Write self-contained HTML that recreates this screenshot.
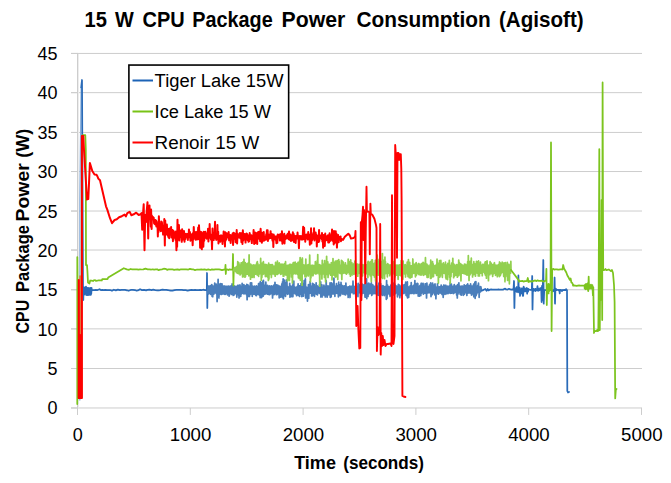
<!DOCTYPE html><html><head><meta charset="utf-8"><style>html,body{margin:0;padding:0;background:#fff;overflow:hidden}svg{display:block}</style></head><body><svg width="671" height="483" viewBox="0 0 671 483">
<rect width="671" height="483" fill="#fff"/>
<line x1="71" y1="407.97" x2="642.00" y2="407.97" stroke="#cdcdcd" stroke-width="1"/>
<line x1="71" y1="368.53" x2="642.00" y2="368.53" stroke="#cdcdcd" stroke-width="1"/>
<line x1="71" y1="328.87" x2="642.00" y2="328.87" stroke="#cdcdcd" stroke-width="1"/>
<line x1="71" y1="289.77" x2="642.00" y2="289.77" stroke="#cdcdcd" stroke-width="1"/>
<line x1="71" y1="250.03" x2="642.00" y2="250.03" stroke="#cdcdcd" stroke-width="1"/>
<line x1="71" y1="211.03" x2="642.00" y2="211.03" stroke="#cdcdcd" stroke-width="1"/>
<line x1="71" y1="171.54" x2="642.00" y2="171.54" stroke="#cdcdcd" stroke-width="1"/>
<line x1="71" y1="132.43" x2="642.00" y2="132.43" stroke="#cdcdcd" stroke-width="1"/>
<line x1="71" y1="92.65" x2="642.00" y2="92.65" stroke="#cdcdcd" stroke-width="1"/>
<line x1="71" y1="53.44" x2="642.00" y2="53.44" stroke="#cdcdcd" stroke-width="1"/>
<line x1="77.5" y1="52.94" x2="77.5" y2="414.95" stroke="#cdcdcd" stroke-width="1"/>
<line x1="78.5" y1="53.94" x2="78.5" y2="407.45" stroke="#ededed" stroke-width="1"/>
<line x1="71" y1="407.97" x2="77.5" y2="407.97" stroke="#cdcdcd" stroke-width="1"/>
<line x1="71" y1="368.53" x2="77.5" y2="368.53" stroke="#cdcdcd" stroke-width="1"/>
<line x1="71" y1="328.87" x2="77.5" y2="328.87" stroke="#cdcdcd" stroke-width="1"/>
<line x1="71" y1="289.77" x2="77.5" y2="289.77" stroke="#cdcdcd" stroke-width="1"/>
<line x1="71" y1="250.03" x2="77.5" y2="250.03" stroke="#cdcdcd" stroke-width="1"/>
<line x1="71" y1="211.03" x2="77.5" y2="211.03" stroke="#cdcdcd" stroke-width="1"/>
<line x1="71" y1="171.54" x2="77.5" y2="171.54" stroke="#cdcdcd" stroke-width="1"/>
<line x1="71" y1="132.43" x2="77.5" y2="132.43" stroke="#cdcdcd" stroke-width="1"/>
<line x1="71" y1="92.65" x2="77.5" y2="92.65" stroke="#cdcdcd" stroke-width="1"/>
<line x1="71" y1="53.44" x2="77.5" y2="53.44" stroke="#cdcdcd" stroke-width="1"/>
<line x1="77.50" y1="407.95" x2="77.50" y2="414.95" stroke="#cdcdcd" stroke-width="1"/>
<line x1="190.30" y1="407.95" x2="190.30" y2="414.95" stroke="#cdcdcd" stroke-width="1"/>
<line x1="303.10" y1="407.95" x2="303.10" y2="414.95" stroke="#cdcdcd" stroke-width="1"/>
<line x1="415.90" y1="407.95" x2="415.90" y2="414.95" stroke="#cdcdcd" stroke-width="1"/>
<line x1="528.70" y1="407.95" x2="528.70" y2="414.95" stroke="#cdcdcd" stroke-width="1"/>
<line x1="641.50" y1="407.95" x2="641.50" y2="414.95" stroke="#cdcdcd" stroke-width="1"/>
<text x="57.5" y="414.45" text-anchor="end" font-family="'Liberation Sans', sans-serif" font-size="18" fill="#000">0</text>
<text x="57.5" y="375.06" text-anchor="end" font-family="'Liberation Sans', sans-serif" font-size="18" fill="#000">5</text>
<text x="57.5" y="335.67" text-anchor="end" font-family="'Liberation Sans', sans-serif" font-size="18" fill="#000">10</text>
<text x="57.5" y="296.28" text-anchor="end" font-family="'Liberation Sans', sans-serif" font-size="18" fill="#000">15</text>
<text x="57.5" y="256.89" text-anchor="end" font-family="'Liberation Sans', sans-serif" font-size="18" fill="#000">20</text>
<text x="57.5" y="217.50" text-anchor="end" font-family="'Liberation Sans', sans-serif" font-size="18" fill="#000">25</text>
<text x="57.5" y="178.11" text-anchor="end" font-family="'Liberation Sans', sans-serif" font-size="18" fill="#000">30</text>
<text x="57.5" y="138.72" text-anchor="end" font-family="'Liberation Sans', sans-serif" font-size="18" fill="#000">35</text>
<text x="57.5" y="99.33" text-anchor="end" font-family="'Liberation Sans', sans-serif" font-size="18" fill="#000">40</text>
<text x="57.5" y="59.94" text-anchor="end" font-family="'Liberation Sans', sans-serif" font-size="18" fill="#000">45</text>
<text x="77.80" y="441.0" text-anchor="middle" font-family="'Liberation Sans', sans-serif" font-size="18" fill="#000">0</text>
<text x="190.60" y="441.0" text-anchor="middle" font-family="'Liberation Sans', sans-serif" font-size="18" textLength="41.5" lengthAdjust="spacingAndGlyphs" fill="#000">1000</text>
<text x="303.40" y="441.0" text-anchor="middle" font-family="'Liberation Sans', sans-serif" font-size="18" textLength="41.5" lengthAdjust="spacingAndGlyphs" fill="#000">2000</text>
<text x="416.20" y="441.0" text-anchor="middle" font-family="'Liberation Sans', sans-serif" font-size="18" textLength="41.5" lengthAdjust="spacingAndGlyphs" fill="#000">3000</text>
<text x="529.00" y="441.0" text-anchor="middle" font-family="'Liberation Sans', sans-serif" font-size="18" textLength="41.5" lengthAdjust="spacingAndGlyphs" fill="#000">4000</text>
<text x="641.80" y="441.0" text-anchor="middle" font-family="'Liberation Sans', sans-serif" font-size="18" textLength="41.5" lengthAdjust="spacingAndGlyphs" fill="#000">5000</text>
<text x="84.50" y="27.0" font-family="'Liberation Sans', sans-serif" font-size="22" font-weight="bold" textLength="22.35" lengthAdjust="spacingAndGlyphs" fill="#000">15</text>
<text x="114.90" y="27.0" font-family="'Liberation Sans', sans-serif" font-size="22" font-weight="bold" textLength="18.78" lengthAdjust="spacingAndGlyphs" fill="#000">W</text>
<text x="142.60" y="27.0" font-family="'Liberation Sans', sans-serif" font-size="22" font-weight="bold" textLength="42.13" lengthAdjust="spacingAndGlyphs" fill="#000">CPU</text>
<text x="192.20" y="27.0" font-family="'Liberation Sans', sans-serif" font-size="22" font-weight="bold" textLength="80.48" lengthAdjust="spacingAndGlyphs" fill="#000">Package</text>
<text x="281.60" y="27.0" font-family="'Liberation Sans', sans-serif" font-size="22" font-weight="bold" textLength="63.72" lengthAdjust="spacingAndGlyphs" fill="#000">Power</text>
<text x="356.40" y="27.0" font-family="'Liberation Sans', sans-serif" font-size="22" font-weight="bold" textLength="134.27" lengthAdjust="spacingAndGlyphs" fill="#000">Consumption</text>
<text x="499.00" y="27.0" font-family="'Liberation Sans', sans-serif" font-size="22" font-weight="bold" textLength="84.60" lengthAdjust="spacingAndGlyphs" fill="#000">(Agisoft)</text>
<text x="294.20" y="469.2" font-family="'Liberation Sans', sans-serif" font-size="17.5" font-weight="bold" textLength="41.72" lengthAdjust="spacingAndGlyphs" fill="#000">Time</text>
<text x="343.20" y="469.2" font-family="'Liberation Sans', sans-serif" font-size="17.5" font-weight="bold" textLength="80.77" lengthAdjust="spacingAndGlyphs" fill="#000">(seconds)</text>
<text transform="translate(28.6,333.5) rotate(-90)" x="0.10" y="0" font-family="'Liberation Sans', sans-serif" font-size="17.5" font-weight="bold" textLength="33.52" lengthAdjust="spacingAndGlyphs" fill="#000">CPU</text>
<text transform="translate(28.6,333.5) rotate(-90)" x="41.50" y="0" font-family="'Liberation Sans', sans-serif" font-size="17.5" font-weight="bold" textLength="66.98" lengthAdjust="spacingAndGlyphs" fill="#000">Package</text>
<text transform="translate(28.6,333.5) rotate(-90)" x="112.10" y="0" font-family="'Liberation Sans', sans-serif" font-size="17.5" font-weight="bold" textLength="58.12" lengthAdjust="spacingAndGlyphs" fill="#000">Power</text>
<text transform="translate(28.6,333.5) rotate(-90)" x="175.70" y="0" font-family="'Liberation Sans', sans-serif" font-size="17.5" font-weight="bold" textLength="29.10" lengthAdjust="spacingAndGlyphs" fill="#000">(W)</text>
<polyline points="79.85,400.00 79.85,200.00 80.50,140.00 81.20,87.50" fill="none" stroke="#8ab0dc" stroke-width="1.3" stroke-linejoin="round" stroke-linecap="round" />
<polyline points="81.20,87.50 82.00,80.00 82.60,200.00 83.00,286.00 83.30,300.00 83.60,287.00 83.80,290.74 83.98,290.11 84.28,294.59 84.53,289.21 84.77,292.87 85.02,287.46 85.29,292.59 85.57,288.80 85.83,294.09 86.03,286.65 86.24,295.07 86.40,287.54 86.70,294.77 86.92,288.40 87.12,294.23 87.37,287.99 87.65,295.09 87.93,290.02 88.23,295.01 88.50,288.10 88.69,294.94 88.83,287.81 89.04,291.89 89.32,288.12 89.56,294.82 89.85,288.89 90.07,293.07 90.31,290.27 90.48,294.06 90.62,287.83 90.80,294.98 91.02,288.47 91.26,293.86 91.56,287.83 91.77,290.77 92.00,290.01 93.21,290.02 94.43,290.04 95.70,289.99 97.61,290.06 99.58,289.22 100.81,290.04 102.32,289.90 103.71,290.10 105.19,289.88 107.25,290.06 108.58,290.05 110.07,290.05 111.95,290.77 113.86,289.71 115.84,290.40 117.86,289.58 119.94,290.11 121.50,289.88 123.35,289.98 125.09,289.99 126.96,290.27 128.59,290.77 130.72,289.98 132.91,289.92 134.90,290.05 136.64,290.74 138.75,290.14 140.07,289.25 142.00,290.12 144.15,289.85 146.13,290.38 147.35,289.87 149.51,289.61 151.61,290.08 153.18,289.66 155.21,290.09 157.28,290.28 158.76,290.28 160.30,290.11 162.32,289.71 164.54,289.88 166.27,289.94 167.84,290.03 169.41,290.49 170.75,290.69 172.54,290.58 174.57,290.09 176.42,289.96 178.14,289.98 180.07,289.92 181.83,289.87 183.48,290.11 185.66,290.12 187.69,290.63 189.88,290.10 191.63,289.88 193.17,290.09 195.12,289.92 196.73,290.02 198.62,290.10 200.18,289.86 201.50,290.06 203.00,289.73 205.01,290.06 206.32,290.13 206.50,290.00 206.80,290.00 207.00,273.00 207.30,308.00 207.60,290.00" fill="none" stroke="#2a6bb8" stroke-width="1.75" stroke-linejoin="round" stroke-linecap="round" />
<polyline points="207.60,290.00 208.00,293.72 208.29,286.24 208.61,293.96 208.99,286.41 209.40,293.01 209.64,286.53 210.05,293.03 210.27,285.53 210.62,294.30 210.86,287.22 211.15,292.72 211.35,287.27 211.61,293.86 211.80,284.56 212.09,296.32 212.50,286.78 212.71,296.68 212.92,286.07 213.12,293.28 213.49,287.26 213.83,294.11 214.07,285.97 214.41,292.77 214.71,283.13 215.05,292.90 215.39,287.48 215.78,292.79 216.19,284.16 216.54,293.62 216.87,287.22 217.10,301.58 217.46,286.39 217.72,296.65 218.11,279.44 218.35,293.23 218.61,286.77 218.98,297.89 219.19,285.07 219.39,293.94 219.62,284.17 219.98,293.98 220.30,284.49 220.52,293.63 220.75,283.51 220.94,294.26 221.35,286.75 221.67,294.42 222.01,283.89 222.31,293.94 222.49,286.53 222.79,293.42 223.01,287.74 223.31,293.39 223.63,286.09 223.84,293.73 224.03,285.99 224.23,294.32 224.49,286.47 224.70,293.69 225.10,286.38 225.37,294.32 225.75,286.35 226.05,293.80 226.25,286.25 226.55,293.56 226.83,287.22 227.12,293.30 227.34,286.42 227.61,294.93 227.94,286.69 228.17,292.80 228.46,286.17 228.68,292.84 228.86,286.26 229.16,296.18 229.45,286.45 229.64,293.28 229.83,287.38 230.03,292.83 230.36,286.30 230.55,293.04 230.92,286.00 231.17,294.40 231.55,287.13 231.75,294.38 232.07,283.93 232.28,293.86 232.47,286.06 232.70,293.43 233.07,285.98 233.26,295.41 233.66,285.61 234.05,295.04 234.31,286.01 234.53,293.92 234.91,286.01 235.18,292.95 235.55,287.27 235.77,293.67 236.12,286.85 236.33,292.55 236.63,286.49 236.83,297.08 237.16,286.11 237.45,293.91 237.71,285.39 237.99,292.70 238.30,285.28 238.64,294.92 238.86,286.66 239.04,297.94 239.27,286.98 239.64,294.01 239.95,284.84 240.15,292.71 240.33,287.40 240.73,296.46 240.96,286.60 241.29,294.17 241.56,286.93 241.76,293.63 242.14,283.43 242.43,292.64 242.69,287.64 243.01,293.30 243.34,287.37 243.61,293.13 243.89,284.64 244.11,293.88 244.50,286.60 244.90,293.29 245.31,285.95 245.61,293.26 246.03,287.22 246.43,294.71 246.78,284.36 247.12,299.69 247.36,287.11 247.72,293.03 247.93,284.95 248.12,296.26 248.47,285.89 248.86,294.56 249.12,286.76 249.43,296.48 249.68,286.07 250.05,294.77 250.42,282.96 250.73,292.79 250.92,284.02 251.22,293.98 251.63,282.82 251.81,293.12 252.01,287.59 252.26,296.27 252.54,286.06 252.82,293.76 253.22,287.29 253.44,293.98 253.74,286.70 253.98,294.11 254.32,286.02 254.61,294.24 254.99,286.97 255.29,294.58 255.63,286.71 255.91,295.35 256.29,285.92 256.50,295.54 256.78,286.17 257.19,292.51 257.50,286.82 257.75,294.20 257.95,287.05 258.26,294.30 258.59,283.55 258.82,294.04 259.07,283.48 259.48,295.16 259.73,285.45 260.14,297.54 260.37,281.73 260.73,293.66 261.10,282.54 261.51,297.60 261.81,284.69 262.00,296.62 262.22,287.41 262.64,293.68 262.85,281.13 263.07,296.22 263.46,280.48 263.77,292.64 264.04,287.21 264.25,294.37 264.52,287.60 264.75,294.35 265.16,285.16 265.57,293.78 265.82,282.23 266.18,293.53 266.47,286.90 266.78,292.82 267.11,286.12 267.33,294.04 267.55,285.48 267.74,293.22 268.13,286.02 268.52,294.33 268.86,286.27 269.07,293.27 269.28,287.12 269.58,294.70 269.85,285.86 270.25,294.03 270.50,287.22 270.71,293.83 270.97,287.20 271.39,293.34 271.69,285.85 272.00,293.60 272.20,286.11 272.56,297.87 272.84,287.03 273.07,294.11 273.35,286.37 273.62,294.58 273.89,285.15 274.28,292.70 274.52,285.05 274.73,294.43 274.98,282.37 275.38,293.83 275.76,285.98 276.04,292.64 276.44,284.84 276.83,294.61 277.21,287.57 277.39,294.22 277.77,285.05 278.05,293.24 278.38,286.89 278.58,293.73 278.78,286.28 279.20,297.82 279.49,286.01 279.87,296.15 280.19,287.34 280.47,297.09 280.65,286.72 280.97,295.84 281.26,286.69 281.51,293.67 281.82,283.81 282.21,297.29 282.54,281.83 282.94,293.81 283.17,278.99 283.42,298.65 283.66,285.93 283.87,293.15 284.10,284.78 284.40,294.02 284.78,280.05 285.05,295.78 285.29,287.07 285.50,296.26 285.81,283.12 286.05,293.55 286.27,286.96 286.58,293.59 286.86,279.92 287.25,293.49 287.49,286.40 287.73,294.27 287.99,286.79 288.21,293.03 288.57,287.51 288.88,293.30 289.19,286.86 289.48,293.96 289.71,283.43 290.03,297.14 290.42,285.82 290.80,292.94 290.98,286.30 291.25,293.46 291.49,286.63 291.76,296.51 292.01,287.38 292.29,296.15 292.61,285.05 292.90,296.61 293.12,283.38 293.52,293.36 293.80,281.14 294.06,292.60 294.46,286.87 294.71,292.73 295.02,287.32 295.26,293.88 295.61,287.51 295.96,292.80 296.25,287.08 296.61,295.60 296.86,286.99 297.25,293.33 297.59,286.16 297.83,293.48 298.11,283.78 298.44,295.38 298.74,286.08 299.10,293.81 299.41,285.94 299.64,296.47 300.00,286.29 300.21,293.63 300.54,285.58 300.87,292.62 301.05,283.52 301.32,294.25 301.65,283.52 301.83,296.59 302.05,280.58 302.31,292.55 302.68,286.15 302.97,292.97 303.20,286.16 303.47,296.14 303.67,283.37 303.98,292.90 304.17,280.63 304.39,292.85 304.76,286.42 305.11,293.16 305.37,278.81 305.67,297.94 305.99,286.85 306.20,292.66 306.46,287.45 306.76,292.81 307.17,287.66 307.46,301.05 307.85,287.59 308.19,296.50 308.44,284.69 308.77,298.14 308.96,287.32 309.16,293.35 309.53,286.48 309.73,293.31 310.14,281.60 310.48,293.14 310.83,286.93 311.12,292.39 311.38,287.19 311.67,295.92 312.01,285.85 312.30,295.81 312.49,283.39 312.82,295.28 313.02,283.69 313.27,293.40 313.53,287.60 313.88,293.02 314.24,284.72 314.47,296.48 314.81,287.47 315.17,293.04 315.47,287.29 315.75,293.68 316.15,282.82 316.52,294.18 316.73,285.96 316.94,294.12 317.19,285.94 317.47,294.96 317.85,287.07 318.14,292.80 318.32,287.06 318.60,292.85 318.80,287.20 319.03,292.75 319.43,284.84 319.66,293.38 319.93,287.10 320.32,293.74 320.69,281.96 320.92,297.07 321.32,286.60 321.53,292.42 321.92,284.94 322.33,296.89 322.59,287.46 322.98,292.96 323.32,287.18 323.53,292.35 323.92,285.22 324.18,295.21 324.49,287.02 324.74,293.78 325.02,286.74 325.23,296.93 325.52,286.68 325.91,295.51 326.18,280.50 326.47,293.16 326.76,287.30 327.18,297.23 327.40,287.16 327.60,293.89 327.98,285.79 328.18,294.92 328.54,286.24 328.91,293.58 329.30,287.50 329.69,295.06 330.07,282.87 330.26,297.28 330.45,285.87 330.68,293.70 331.01,286.32 331.19,296.83 331.60,282.85 331.81,293.13 332.12,287.39 332.47,293.92 332.72,284.18 333.12,293.02 333.42,287.04 333.68,293.76 333.93,278.07 334.29,293.05 334.70,287.23 334.90,296.35 335.17,286.41 335.46,293.42 335.79,286.65 336.09,292.64 336.46,283.72 336.65,293.12 337.00,285.57 337.22,293.37 337.40,285.90 337.81,293.35 338.06,286.09 338.40,296.76 338.69,282.24 338.95,294.70 339.27,286.01 339.58,293.38 339.89,285.45 340.15,295.61 340.37,284.74 340.69,294.82 341.02,282.48 341.26,292.53 341.50,284.77 341.88,292.55 342.16,287.52 342.57,294.03 342.91,285.78 343.16,293.47 343.38,287.45 343.74,293.92 344.10,286.03 344.29,294.49 344.57,285.96 344.93,293.58 345.20,286.21 345.57,294.98 345.90,283.23 346.08,293.17 346.31,286.73 346.72,293.36 347.11,287.31 347.49,294.13 347.85,287.23 348.18,297.36 348.50,286.95 348.76,293.50 349.03,286.80 349.36,292.79 349.78,286.18 350.02,297.50 350.40,287.21 350.75,292.95 351.07,286.39 351.43,292.45 351.75,286.37 352.07,292.30 352.44,286.51 352.70,292.48 353.00,281.24 353.37,293.67 353.65,287.31 354.03,293.67 354.23,287.59 354.55,292.35 354.83,286.43 355.09,292.91 355.48,287.46 355.89,298.81 356.26,283.57 356.65,292.89 357.01,286.51 357.34,295.55 357.76,287.60 357.98,296.52 358.21,283.41 358.43,293.09 358.83,287.21 359.20,292.64 359.39,286.54 359.64,292.60 359.93,284.72 360.32,292.51 360.56,287.08 360.95,299.80 361.28,286.94 361.47,295.82 361.66,283.57 362.05,293.79 362.36,286.29 362.68,292.26 362.88,284.55 363.09,293.29 363.45,287.18 363.84,292.71 364.05,285.93 364.42,293.33 364.63,284.40 364.99,297.01 365.17,287.16 365.55,293.99 365.84,287.06 366.22,297.14 366.55,278.83 366.80,298.57 366.99,283.06 367.40,293.79 367.78,286.89 368.02,296.40 368.25,287.01 368.57,293.36 368.79,283.24 369.02,293.99 369.29,286.46 369.70,293.58 370.04,284.24 370.36,293.41 370.76,286.10 370.97,293.34 371.38,282.92 371.79,295.39 372.12,286.80 372.43,293.16 372.80,284.78 373.13,293.80 373.33,286.48 373.57,292.34 373.80,286.29 374.19,293.54 374.46,286.30 374.71,293.24 374.96,287.48 375.28,293.43 375.58,286.48 375.85,293.60 376.07,281.32 376.35,293.79 376.69,285.48 377.04,294.98 377.44,286.46 377.77,294.99 378.11,286.71 378.47,295.15 378.88,283.22 379.30,295.36 379.62,282.22 379.80,292.69 380.20,287.37 380.48,295.14 380.68,283.72 381.07,294.07 381.36,286.86 381.76,294.40 382.15,286.08 382.53,295.34 382.91,285.74 383.11,292.93 383.38,285.91 383.77,294.71 384.10,286.70 384.37,295.54 384.77,287.16 385.16,294.06 385.50,286.58 385.70,292.39 385.96,286.17 386.33,299.30 386.60,280.51 387.00,298.29 387.40,284.82 387.77,293.92 388.15,286.34 388.38,293.15 388.68,287.07 388.90,292.76 389.11,286.70 389.45,294.35 389.71,287.13 390.11,296.34 390.33,287.39 390.55,292.75 390.86,285.13 391.11,292.23 391.39,286.59 391.64,292.27 391.85,282.17 392.23,294.28 392.61,283.61 392.95,294.77 393.16,286.09 393.45,294.97 393.80,283.13 394.07,292.56 394.41,284.09 394.67,293.55 394.88,284.18 395.16,293.80 395.57,287.20 395.83,292.52 396.09,285.81 396.45,292.86 396.75,286.40 396.93,292.89 397.19,286.27 397.46,296.79 397.74,286.23 398.06,295.02 398.37,284.40 398.66,294.04 398.85,286.00 399.26,292.32 399.49,285.19 399.83,297.70 400.11,286.15 400.38,292.53 400.67,287.54 400.98,292.36 401.22,287.01 401.44,295.44 401.72,284.73 401.95,293.11 402.15,287.09 402.57,292.26 402.91,285.06 403.30,293.43 403.64,286.65 403.98,293.56 404.36,284.55 404.67,292.65 405.06,286.41 405.37,292.36 405.74,282.04 406.07,295.28 406.40,286.40 406.60,292.77 406.89,286.56 407.17,296.37 407.36,281.99 407.57,297.77 407.84,286.60 408.19,297.48 408.37,287.09 408.70,297.16 408.97,287.07 409.35,292.35 409.71,287.22 409.94,293.70 410.15,285.99 410.39,292.52 410.76,286.81 410.97,293.23 411.22,282.70 411.46,293.30 411.86,287.41 412.13,293.49 412.55,286.39 412.91,292.74 413.10,286.31 413.35,292.46 413.59,285.35 413.89,293.64 414.09,285.96 414.49,293.13 414.87,280.59 415.13,292.68 415.48,285.13 415.72,292.77 415.94,284.21 416.21,293.45 416.54,287.12 416.93,292.89 417.12,283.34 417.51,292.85 417.82,283.62 418.24,296.02 418.62,287.04 418.86,293.58 419.25,286.35 419.62,296.16 419.90,285.68 420.25,292.02 420.44,285.16 420.80,295.43 421.11,283.48 421.40,293.11 421.67,283.34 422.03,292.80 422.36,285.82 422.67,292.10 423.09,283.49 423.45,294.13 423.85,286.24 424.17,293.29 424.54,287.14 424.92,292.92 425.11,283.80 425.39,293.04 425.74,283.98 426.09,293.49 426.33,285.94 426.53,297.90 426.89,283.09 427.26,291.98 427.61,286.42 428.00,292.97 428.39,287.45 428.63,292.49 428.93,286.45 429.30,292.78 429.50,284.77 429.80,292.02 430.14,284.15 430.32,292.14 430.73,282.90 431.01,296.60 431.26,286.53 431.68,291.97 431.97,286.15 432.24,294.69 432.60,283.09 432.84,293.08 433.08,286.55 433.33,292.97 433.73,285.33 434.04,292.72 434.44,284.55 434.73,294.75 435.02,283.97 435.43,292.24 435.70,287.49 435.91,298.68 436.21,287.46 436.60,293.05 437.00,287.09 437.22,293.52 437.49,283.89 437.88,293.26 438.15,286.69 438.52,294.21 438.83,287.02 439.01,293.37 439.23,287.40 439.48,292.02 439.77,286.96 440.13,292.32 440.49,286.60 440.81,293.11 441.16,285.04 441.51,293.38 441.76,286.64 442.09,294.42 442.30,286.85 442.64,293.52 442.88,286.81 443.18,297.27 443.41,285.91 443.65,293.47 443.96,285.00 444.36,292.47 444.71,286.37 444.98,294.30 445.32,285.37 445.52,293.36 445.93,285.40 446.30,293.82 446.52,286.80 446.77,292.82 447.14,287.36 447.52,292.92 447.78,286.13 448.05,293.73 448.39,286.57 448.69,292.94 449.02,286.31 449.31,292.93 449.57,285.86 449.92,292.31 450.23,282.78 450.52,293.26 450.71,287.32 451.12,292.17 451.37,284.11 451.73,293.16 452.00,287.00 452.26,292.98 452.51,286.64 452.89,292.50 453.20,286.36 453.40,293.52 453.68,286.58 454.02,293.17 454.27,284.62 454.50,291.90 454.78,287.17 454.99,292.10 455.39,286.09 455.70,292.20 455.89,287.23 456.09,292.68 456.41,286.36 456.65,294.89 456.99,285.50 457.30,297.98 457.63,284.72 457.96,294.24 458.33,286.36 458.56,292.88 458.88,282.88 459.06,292.05 459.29,285.95 459.54,291.97 459.86,286.37 460.27,294.48 460.50,286.75 460.86,291.96 461.06,286.21 461.35,295.13 461.72,286.96 462.06,291.74 462.42,286.12 462.81,292.75 463.02,286.48 463.30,295.27 463.57,286.79 463.96,293.30 464.20,284.80 464.47,294.29 464.75,286.41 465.13,292.38 465.42,285.99 465.74,291.83 466.12,286.89 466.34,292.90 466.59,285.15 466.89,295.49 467.16,286.94 467.34,293.48 467.70,283.90 467.95,293.11 468.25,286.27 468.59,291.79 468.99,285.67 469.22,292.80 469.47,286.21 469.79,291.89 470.03,286.39 470.25,292.89 470.60,283.97 470.88,293.34 471.26,285.96 471.49,295.07 471.80,286.96 472.10,292.90 472.38,286.16 472.77,291.97 473.05,286.98 473.37,294.99 473.63,284.19 473.83,296.75 474.12,285.10 474.48,293.21 474.85,282.25 475.14,298.35 475.39,286.44 475.63,294.68 475.86,281.68 476.09,295.73 476.45,287.53 476.81,293.99 477.18,287.14 477.49,292.52 477.75,285.26 478.14,291.95 478.48,283.24 478.75,292.54 478.95,286.48 479.14,297.26 479.49,286.82 479.88,292.10 480.17,286.76 480.47,291.88 480.76,286.62 481.50,290.00" fill="none" stroke="#4a7ebb" stroke-width="1.75" stroke-linejoin="round" stroke-linecap="round" />
<polyline points="481.50,290.77 482.62,290.40 484.08,289.56 485.30,289.01 486.56,290.85 487.71,288.99 488.54,290.45 490.03,289.52 491.03,289.49 492.46,289.67 493.45,289.72 494.41,289.54 495.72,289.59 497.17,289.58 498.62,289.47 499.52,289.55 500.36,289.55 501.79,289.51 502.89,289.72 504.08,288.97 505.14,288.56 506.21,289.50 507.54,289.51 509.00,288.82 510.37,289.47 511.25,289.53 512.10,289.49 513.20,289.52 513.50,289.60 514.00,281.00 514.40,308.00 514.80,290.00 515.00,291.65 515.36,288.84 515.67,290.10 516.16,287.67 516.50,291.89 516.93,286.97 517.29,290.89 517.70,289.40 518.13,292.26 518.67,289.98 519.26,291.12 519.64,287.68 520.02,295.98 520.60,289.47 521.15,293.58 521.72,288.40 522.31,291.46 522.73,288.50 523.17,295.77 523.65,286.67 524.29,291.50 524.91,288.40 525.41,291.46 525.80,289.39 526.17,290.61 526.81,287.98 527.14,293.79 527.56,288.57 528.07,291.56 528.69,289.01 529.00,289.70 530.06,289.75 531.48,289.75 531.80,289.80 532.20,276.00 532.50,309.40 532.90,290.00 533.00,290.52 533.54,288.79 533.92,290.88 534.32,289.36 534.80,290.30 535.37,288.89 535.72,291.05 536.35,289.39 536.99,290.00 537.46,286.17 537.92,290.78 538.27,288.29 538.71,290.73 539.37,289.17 539.76,290.06 540.20,288.14 541.20,288.00 541.60,302.00 542.00,286.00 542.60,300.00 543.30,260.00 543.70,303.60 544.20,290.00 544.50,290.08 545.54,290.00 546.70,290.01 547.88,289.99 548.96,289.94 549.83,289.96 550.67,289.87 551.45,289.92 552.54,291.38 553.50,290.01 554.21,291.37 554.30,290.00 554.60,277.50 555.00,303.60 555.40,290.00 555.60,288.53 556.65,290.08 557.50,289.97 558.48,289.99 559.35,290.70 560.42,289.92 561.14,289.89 561.84,291.13 562.76,289.92 563.78,290.13 564.66,289.90 565.38,290.13 566.16,289.15 566.60,290.00 567.00,290.00 567.30,391.00 568.00,392.50 569.00,392.00" fill="none" stroke="#2a6bb8" stroke-width="1.75" stroke-linejoin="round" stroke-linecap="round" />
<polyline points="518.20,290.00 518.40,275.40 518.70,290.00" fill="none" stroke="#2a6bb8" stroke-width="1.75" stroke-linejoin="round" stroke-linecap="round" />
<polyline points="522.60,290.00 522.80,295.70 523.10,290.00" fill="none" stroke="#2a6bb8" stroke-width="1.75" stroke-linejoin="round" stroke-linecap="round" />
<polyline points="559.50,290.00 559.70,293.50 560.00,290.00" fill="none" stroke="#2a6bb8" stroke-width="1.75" stroke-linejoin="round" stroke-linecap="round" />
<polyline points="77.25,404.00 77.30,257.00 77.60,290.00 78.40,398.00 81.50,398.00 81.90,136.00 83.00,135.00 85.30,135.00 85.80,150.00 86.00,265.00 87.00,265.00 87.40,271.00 88.00,282.50 89.40,283.50 90.20,280.50 90.20,280.57 91.56,280.57 93.00,281.04 93.98,280.25 95.10,280.05 95.91,280.78 97.32,280.58 98.17,280.48 99.06,280.35 100.41,280.40 101.32,280.41 101.80,280.50 102.30,279.00 107.50,279.00 108.20,277.60 123.80,268.20 126.80,269.40 126.80,269.30 129.02,269.81 130.60,269.00 132.14,269.43 133.97,269.27 135.54,269.46 136.94,269.30 138.41,269.53 139.98,269.41 141.62,269.50 143.30,269.44 145.50,268.64 147.69,269.36 149.44,269.28 151.43,269.51 152.66,269.28 154.22,269.53 155.78,269.41 157.31,269.30 158.59,270.20 159.96,269.67 161.94,269.33 163.82,268.71 165.37,268.80 167.40,269.86 168.66,269.29 170.83,269.30 172.58,269.46 174.11,269.87 175.46,269.55 177.67,269.40 179.23,269.93 181.00,269.27 183.04,269.43 184.27,269.42 186.17,269.33 188.40,269.54 189.96,268.89 191.97,269.33 193.48,269.45 195.05,270.06 197.12,269.50 199.23,269.54 201.44,269.41 202.81,269.53 204.51,269.47 206.48,269.82 208.26,269.33 210.51,269.99 211.90,269.30 213.85,269.54 215.23,269.28 217.44,269.41 219.08,269.45 220.35,269.65 221.98,270.13 223.90,269.54 224.70,269.40 225.20,269.40 225.50,264.80 225.80,274.00 226.10,269.40 226.10,269.34 227.26,269.34 228.30,270.10 229.55,269.29 230.77,269.54 232.25,269.36 232.60,269.40 233.00,254.00 233.40,285.50 233.80,269.40" fill="none" stroke="#7cc41e" stroke-width="1.75" stroke-linejoin="round" stroke-linecap="round" />
<polyline points="233.80,269.40 234.00,270.79 234.40,267.97 234.58,270.83 234.90,267.59 235.20,271.12 235.47,267.75 235.72,271.01 236.10,267.12 236.35,272.51 236.57,266.69 236.87,272.35 237.19,267.15 237.42,273.05 237.76,261.62 238.18,273.37 238.37,266.32 238.70,273.73 238.91,262.95 239.13,273.22 239.35,266.43 239.56,272.42 239.75,264.79 240.14,274.99 240.40,265.39 240.80,272.38 241.15,262.77 241.45,273.55 241.78,262.78 242.02,273.46 242.23,263.22 242.59,276.88 242.93,261.91 243.13,276.68 243.36,265.40 243.62,272.31 243.98,259.40 244.38,272.76 244.59,264.97 244.97,277.19 245.23,262.68 245.56,276.30 245.77,265.01 246.15,274.23 246.45,265.18 246.81,272.46 247.00,263.74 247.39,274.01 247.57,264.44 247.90,273.32 248.10,263.24 248.37,274.29 248.59,262.76 248.81,275.84 249.10,254.89 249.37,273.84 249.71,264.31 249.92,272.91 250.26,266.14 250.49,279.24 250.69,264.24 250.96,275.97 251.21,264.84 251.43,276.48 251.83,265.51 252.25,277.45 252.61,266.41 252.92,273.44 253.19,264.85 253.58,274.41 253.78,265.09 254.05,277.36 254.33,265.05 254.52,272.64 254.82,265.27 255.02,274.08 255.33,265.12 255.72,274.02 256.03,265.18 256.30,273.91 256.70,262.94 257.08,274.77 257.33,261.54 257.71,275.03 257.91,263.80 258.19,272.79 258.38,266.40 258.61,276.26 258.82,265.78 259.18,274.30 259.51,265.17 259.80,273.74 260.21,264.87 260.45,273.10 260.66,258.41 260.91,272.88 261.10,265.21 261.29,280.26 261.55,264.29 261.88,277.23 262.15,263.21 262.47,273.90 262.67,266.11 263.02,274.40 263.39,261.66 263.79,273.22 264.08,264.32 264.39,273.59 264.59,265.53 264.78,272.28 265.10,264.45 265.38,276.46 265.60,265.67 265.96,276.54 266.20,264.54 266.59,273.13 266.80,265.36 266.99,275.16 267.34,266.04 267.71,277.04 268.10,264.63 268.37,280.39 268.69,263.12 268.95,279.02 269.22,264.86 269.50,274.09 269.90,264.94 270.21,273.04 270.53,265.28 270.78,274.49 271.04,264.73 271.40,277.39 271.64,266.33 272.00,274.42 272.40,264.54 272.75,272.67 273.06,265.94 273.47,273.10 273.65,266.08 273.99,274.30 274.32,266.24 274.66,273.85 274.93,266.00 275.19,276.24 275.58,262.47 275.94,274.26 276.26,264.45 276.62,273.17 276.92,265.79 277.17,274.43 277.39,261.11 277.71,272.61 277.94,264.99 278.28,272.32 278.58,264.26 278.83,273.68 279.24,262.89 279.62,272.41 279.84,264.69 280.06,272.42 280.42,264.59 280.80,274.32 281.21,264.24 281.41,273.94 281.64,265.42 281.98,272.36 282.26,265.61 282.47,273.04 282.81,264.25 283.22,276.20 283.57,264.45 283.87,276.17 284.27,265.81 284.57,274.00 284.89,263.28 285.27,272.28 285.55,261.74 285.75,274.93 286.04,265.22 286.31,272.38 286.58,266.47 286.94,275.15 287.18,265.59 287.49,280.81 287.90,265.38 288.10,279.74 288.45,266.35 288.72,273.17 289.04,264.98 289.38,280.50 289.74,264.45 290.12,273.03 290.54,264.40 290.75,273.13 291.17,265.97 291.45,276.92 291.70,266.19 291.92,272.32 292.19,264.42 292.42,282.89 292.83,266.16 293.06,274.33 293.25,262.73 293.50,273.01 293.86,262.72 294.28,272.36 294.48,265.60 294.75,273.50 295.16,262.03 295.41,273.84 295.62,264.83 295.80,273.12 296.10,264.63 296.29,272.23 296.57,263.51 296.82,273.66 297.22,265.24 297.57,274.34 297.99,262.36 298.39,277.67 298.75,265.56 299.15,278.42 299.53,261.12 299.83,272.62 300.12,257.59 300.38,280.27 300.62,259.18 300.98,279.61 301.31,265.00 301.55,279.79 301.84,266.05 302.05,285.13 302.36,258.00 302.74,274.15 302.93,266.19 303.28,273.55 303.52,266.20 303.71,272.34 303.91,264.96 304.30,272.29 304.64,266.18 305.00,276.83 305.18,265.26 305.57,272.49 305.81,259.19 306.04,276.81 306.23,265.02 306.57,275.79 306.87,265.42 307.19,272.46 307.43,265.21 307.83,273.66 308.11,264.52 308.36,275.87 308.62,265.84 308.95,274.33 309.16,265.68 309.37,274.07 309.69,255.12 309.96,273.79 310.20,265.69 310.40,281.74 310.68,266.31 310.94,277.66 311.31,265.28 311.51,272.64 311.70,265.78 311.90,274.27 312.31,266.21 312.67,275.72 312.87,265.19 313.16,275.63 313.57,265.97 313.88,272.99 314.21,265.70 314.58,272.43 314.78,265.37 315.06,273.44 315.36,261.66 315.60,273.86 315.93,263.27 316.28,272.34 316.70,263.02 316.90,273.54 317.28,260.55 317.49,272.69 317.75,254.58 317.96,272.88 318.28,265.32 318.67,272.75 318.93,266.14 319.22,274.36 319.43,264.69 319.78,286.17 320.04,264.91 320.32,273.66 320.58,265.28 320.93,273.94 321.15,266.44 321.52,274.03 321.71,265.34 321.92,278.94 322.30,260.36 322.64,273.58 322.87,263.76 323.21,273.81 323.51,265.73 323.87,273.47 324.23,264.85 324.42,277.37 324.64,260.53 325.00,275.97 325.29,265.34 325.59,281.85 325.96,264.51 326.28,274.05 326.61,256.35 327.03,274.46 327.29,263.02 327.49,274.22 327.78,261.81 328.05,277.47 328.44,265.93 328.72,273.03 328.91,264.66 329.25,273.66 329.62,264.32 329.99,273.60 330.32,264.79 330.61,275.13 330.85,264.66 331.08,274.02 331.35,262.52 331.61,274.92 331.79,263.15 332.00,279.81 332.41,265.68 332.81,274.39 332.99,258.59 333.35,273.93 333.64,265.03 333.95,275.19 334.24,265.90 334.49,272.24 334.80,262.07 335.12,276.85 335.40,261.02 335.76,277.06 335.97,266.24 336.31,273.54 336.50,265.34 336.78,276.07 337.07,260.67 337.31,275.55 337.56,265.75 337.77,279.40 337.97,262.15 338.31,272.29 338.70,259.63 338.99,272.20 339.22,261.48 339.60,272.86 339.90,265.11 340.19,273.48 340.47,266.12 340.75,272.77 341.02,265.06 341.24,273.75 341.43,260.26 341.83,279.50 342.16,260.98 342.35,272.43 342.61,265.25 342.99,273.48 343.37,262.19 343.63,272.31 344.02,264.61 344.43,272.95 344.82,266.12 345.17,273.11 345.42,262.90 345.82,272.64 346.15,265.00 346.44,274.14 346.82,265.86 347.12,273.21 347.51,265.71 347.78,272.42 348.18,259.19 348.43,272.15 348.66,264.60 348.89,272.12 349.10,261.67 349.36,273.94 349.56,264.71 349.96,273.85 350.21,263.76 350.40,276.19 350.70,259.88 351.08,273.72 351.44,265.13 351.71,272.69 351.90,262.89 352.11,274.89 352.38,265.29 352.76,273.40 353.01,265.68 353.35,273.86 353.60,264.19 353.92,274.28 354.17,263.50 354.51,272.68 354.87,261.24 355.07,273.66 355.43,264.40 355.76,272.22 355.99,265.15 356.19,272.83 356.48,264.48 356.73,273.42 357.07,263.99 357.37,273.51 357.58,265.12 357.80,276.17 357.99,265.73 358.18,273.82 358.45,266.22 358.72,273.47 358.90,264.46 359.30,272.62 359.59,266.06 359.93,273.12 360.24,264.20 360.57,278.99 360.91,262.51 361.18,273.44 361.52,264.77 361.87,272.55 362.19,266.26 362.55,275.99 362.86,264.64 363.15,273.04 363.47,265.66 363.82,272.21 364.19,265.16 364.56,272.35 364.85,264.79 365.26,273.92 365.46,264.30 365.87,272.78 366.23,264.86 366.56,273.65 366.98,265.26 367.31,272.13 367.72,262.36 367.91,277.54 368.16,261.32 368.40,273.32 368.79,265.64 369.04,274.13 369.24,263.21 369.61,272.82 369.85,262.21 370.14,275.79 370.39,261.76 370.59,273.77 370.90,265.66 371.31,281.44 371.59,260.01 372.01,273.70 372.38,259.93 372.68,274.09 372.89,265.12 373.15,275.10 373.45,265.68 373.86,272.71 374.22,263.32 374.43,277.00 374.76,264.84 375.10,272.84 375.32,260.34 375.59,280.93 375.85,263.07 376.15,277.35 376.45,259.91 376.84,272.66 377.19,255.16 377.60,272.11 377.88,265.02 378.11,275.14 378.42,261.60 378.81,273.12 379.18,259.27 379.57,274.02 379.82,265.64 380.22,274.13 380.57,262.01 380.91,273.55 381.10,261.72 381.32,277.38 381.59,261.42 382.00,273.71 382.40,253.57 382.60,278.37 382.97,265.29 383.32,272.43 383.55,262.94 383.96,272.78 384.24,259.94 384.54,278.61 384.94,257.04 385.17,272.80 385.42,261.51 385.73,273.54 386.02,265.37 386.39,273.40 386.71,264.75 386.94,272.34 387.12,265.62 387.36,276.79 387.70,263.63 388.05,273.58 388.28,265.95 388.60,272.63 388.99,264.75 389.21,272.63 389.53,265.64 389.78,275.66 390.11,265.09 390.45,273.45 390.66,265.00 391.07,273.92 391.49,265.41 391.78,273.71 392.10,261.52 392.41,273.22 392.73,266.11 392.94,272.77 393.15,264.66 393.51,272.27 393.88,261.61 394.22,274.32 394.55,265.02 394.96,276.77 395.25,265.68 395.48,273.35 395.88,265.22 396.22,272.89 396.46,265.48 396.65,275.13 396.99,265.24 397.37,274.96 397.73,265.39 398.12,279.29 398.51,265.92 398.88,274.09 399.14,264.90 399.56,275.04 399.77,266.20 400.15,274.66 400.56,264.64 400.82,275.61 401.24,260.51 401.63,272.56 401.99,265.01 402.22,274.14 402.54,262.51 402.87,279.28 403.14,261.00 403.34,273.49 403.60,265.15 403.97,273.40 404.28,266.14 404.49,273.85 404.67,264.97 405.06,272.80 405.26,264.74 405.56,277.00 405.96,265.88 406.38,272.34 406.60,265.47 406.90,272.56 407.22,262.10 407.53,273.98 407.75,265.76 408.01,276.51 408.42,259.65 408.84,272.36 409.12,262.22 409.38,277.72 409.69,262.42 409.90,276.51 410.10,265.77 410.47,277.86 410.87,265.83 411.28,273.95 411.57,265.76 411.93,277.19 412.28,266.28 412.52,272.78 412.84,259.00 413.24,273.50 413.58,264.07 413.95,273.06 414.36,264.98 414.61,273.04 415.02,264.07 415.43,276.79 415.69,265.07 415.93,274.21 416.14,262.56 416.37,275.34 416.58,264.86 416.97,273.59 417.21,265.48 417.49,272.92 417.86,266.16 418.09,273.72 418.32,263.63 418.61,274.03 418.94,263.72 419.24,274.67 419.44,264.37 419.83,272.79 420.15,265.94 420.46,272.37 420.74,264.88 421.00,275.21 421.31,263.54 421.59,273.92 421.86,265.06 422.20,273.98 422.60,263.05 422.85,272.94 423.08,262.31 423.27,275.29 423.54,262.88 423.96,275.13 424.23,264.98 424.63,272.21 424.91,265.99 425.11,274.01 425.45,257.72 425.87,273.54 426.15,264.23 426.45,274.91 426.86,264.21 427.08,277.36 427.36,265.81 427.72,273.56 428.01,265.43 428.30,277.34 428.71,266.03 429.05,272.68 429.44,266.17 429.77,272.96 430.08,264.90 430.48,278.33 430.75,260.05 431.07,278.33 431.37,264.09 431.63,273.14 431.88,264.13 432.22,276.77 432.55,261.70 432.82,272.78 433.20,263.77 433.46,276.62 433.88,265.78 434.27,272.45 434.52,266.03 434.75,272.16 434.97,265.64 435.37,273.41 435.61,265.56 436.00,273.46 436.36,264.61 436.62,275.31 437.03,259.18 437.29,273.86 437.51,263.94 437.77,272.91 438.11,265.50 438.38,283.06 438.74,263.01 439.11,273.58 439.47,260.68 439.70,277.21 440.07,262.38 440.43,276.00 440.85,260.42 441.24,272.43 441.47,265.93 441.87,273.79 442.17,264.15 442.38,277.26 442.70,264.06 443.06,273.58 443.37,262.93 443.77,271.95 444.11,264.90 444.41,273.30 444.73,264.26 445.13,273.52 445.48,262.21 445.72,277.67 445.96,264.42 446.23,278.86 446.57,265.51 446.89,276.79 447.26,265.04 447.58,279.59 447.86,263.45 448.27,273.14 448.61,264.87 448.89,274.07 449.30,260.47 449.64,277.21 449.88,265.04 450.20,283.28 450.61,265.65 450.97,276.60 451.23,265.65 451.43,272.40 451.65,263.20 451.83,271.98 452.23,266.04 452.51,271.98 452.82,258.32 453.17,272.26 453.45,265.59 453.66,277.70 453.92,264.18 454.25,276.27 454.51,264.91 454.92,273.01 455.30,265.87 455.64,275.39 455.91,266.23 456.18,273.01 456.45,264.72 456.75,273.17 456.99,265.34 457.34,277.23 457.57,265.19 457.75,276.57 458.12,264.39 458.49,272.29 458.71,260.13 458.93,275.40 459.33,262.49 459.65,271.93 459.97,265.05 460.27,273.71 460.66,263.78 460.95,280.83 461.25,264.41 461.61,272.59 461.96,265.80 462.35,273.04 462.58,265.23 462.93,273.01 463.25,265.76 463.63,271.92 463.81,266.12 464.10,273.65 464.47,264.21 464.69,273.23 465.06,265.88 465.33,274.02 465.67,264.41 465.95,273.72 466.30,265.87 466.66,274.88 466.90,264.83 467.30,272.92 467.70,261.56 468.11,275.12 468.32,255.55 468.60,273.72 468.79,262.27 469.03,280.42 469.29,265.09 469.71,275.21 470.10,261.47 470.36,273.94 470.67,262.31 471.02,272.46 471.30,258.17 471.68,272.88 471.90,265.35 472.17,272.49 472.37,264.62 472.56,276.87 472.86,265.99 473.11,273.89 473.45,265.37 473.65,274.74 473.84,261.73 474.23,273.77 474.65,263.58 474.88,273.70 475.18,266.13 475.47,276.24 475.87,265.08 476.08,271.97 476.45,261.30 476.70,272.93 476.94,265.31 477.15,273.02 477.50,262.02 477.73,272.35 478.10,263.03 478.29,275.98 478.53,260.82 478.78,275.56 479.17,264.24 479.48,275.89 479.67,264.39 480.07,273.27 480.44,262.14 480.66,272.96 480.88,264.88 481.12,273.22 481.45,265.57 481.69,272.26 482.04,265.83 482.25,275.69 482.65,264.36 482.96,272.55 483.23,265.69 483.56,271.92 483.88,264.27 484.16,271.88 484.56,264.45 484.84,273.66 485.08,262.16 485.47,275.25 485.77,261.91 486.02,272.73 486.23,265.94 486.44,278.20 486.62,261.63 486.86,272.28 487.05,260.92 487.46,272.36 487.65,265.56 487.87,273.40 488.13,265.85 488.45,280.62 488.85,265.20 489.13,273.10 489.48,265.37 489.83,274.63 490.07,261.72 490.32,271.90 490.72,264.59 490.93,273.62 491.18,263.06 491.54,271.93 491.80,265.62 492.00,273.63 492.29,264.57 492.67,276.46 493.07,265.09 493.35,274.02 493.72,264.25 494.11,272.08 494.44,262.75 494.75,273.23 495.13,265.57 495.54,275.29 495.90,265.12 496.27,272.49 496.60,266.22 496.81,273.05 497.09,265.26 497.30,276.64 497.64,266.24 498.06,274.92 498.43,264.71 498.70,273.28 499.02,265.02 499.33,276.55 499.53,262.00 499.72,272.21 500.01,262.55 500.34,275.67 500.76,263.49 500.98,273.83 501.39,266.17 501.77,272.23 502.16,262.20 502.51,272.30 502.72,265.60 503.05,271.84 503.40,265.35 503.72,276.45 503.95,262.80 504.24,272.22 504.64,265.38 505.00,281.64 505.38,262.55 505.57,273.95 505.89,265.19 506.28,273.84 506.57,266.18 506.98,276.42 507.31,262.35 507.56,280.36 507.83,264.68 508.24,272.33 508.56,264.48 508.78,277.13 509.03,265.32 509.38,283.81 509.80,265.48 510.18,271.99 510.37,264.03 510.56,273.24 510.85,261.46 511.00,270.00" fill="none" stroke="#92d050" stroke-width="1.75" stroke-linejoin="round" stroke-linecap="round" />
<polyline points="511.00,270.00 519.00,280.60 519.00,281.66 519.92,281.03 521.37,281.12 522.21,280.90 523.54,281.59 524.79,281.11 526.10,281.01 527.00,281.00 527.80,278.00 528.50,282.00 529.00,281.00 529.00,280.69 529.86,281.72 530.93,281.09 532.31,281.68 533.13,280.98 533.97,280.87 535.19,280.45 536.18,281.14 537.60,280.26 538.79,280.91 539.63,280.97 540.47,280.94 541.78,280.65 543.14,281.63 544.30,281.29 545.67,280.41 546.00,281.00 546.40,268.80 546.80,305.00 547.20,285.00 547.40,293.63 547.67,286.17 547.83,288.14 547.99,285.94 548.21,287.67 548.41,283.82 548.60,293.45 548.77,285.96 549.05,291.57 549.40,285.27 549.74,290.32 549.92,284.01 550.22,289.75 550.55,285.36 551.00,142.40 551.60,331.00 552.20,269.00 552.40,269.53 553.45,268.85 554.27,269.60 555.27,269.48 556.21,269.47 557.03,269.46 557.91,269.61 559.08,269.56 560.04,269.47 561.36,269.39 562.50,269.50 563.20,265.00 564.00,268.50 565.20,270.50 566.30,272.50 567.40,275.50 568.60,277.50 569.80,279.80 570.60,278.50 571.40,282.50 572.30,283.00 573.00,284.80 573.00,285.54 573.96,285.46 575.21,285.62 576.50,285.91 577.96,285.55 579.03,285.46 579.96,285.58 581.36,285.55 582.82,285.64 583.79,285.58 584.50,285.50 584.70,288.74 585.08,284.70 585.56,289.27 586.10,283.77 586.63,287.94 586.93,286.17 587.26,289.49 587.78,283.25 588.23,291.18 588.67,276.65 589.08,288.83 589.33,286.12 589.68,288.11 590.16,285.16 590.44,288.50 590.99,284.52 591.39,287.57 591.69,286.30 591.97,288.84 592.39,285.21 592.90,295.50 593.30,287.00 594.00,333.00 594.30,330.86 594.97,330.96 595.57,331.14 596.37,331.14 597.15,329.91 597.69,331.05 598.30,331.00 598.60,300.00 599.30,149.00 599.80,330.00 600.40,250.00 601.00,300.00 601.60,200.00 602.20,320.00 602.60,82.40 603.20,270.00 603.80,269.50 603.80,270.07 604.67,270.00 605.50,269.02 606.50,270.01 607.46,269.93 608.82,269.50 609.63,270.11 610.87,270.99 612.00,270.00 613.00,273.00 614.00,285.00 614.60,302.00 615.20,398.40 615.80,390.00 616.50,389.00" fill="none" stroke="#7cc41e" stroke-width="1.75" stroke-linejoin="round" stroke-linecap="round" />
<polyline points="80.10,276.00 80.10,336.00" fill="none" stroke="#e2783a" stroke-width="1.7" stroke-linejoin="round" stroke-linecap="round" />
<polyline points="78.70,398.00 78.80,280.00 79.00,398.00 80.10,398.00 80.10,335.00 80.20,398.00 81.90,398.00 81.90,136.00 82.60,136.00 83.30,136.00 84.00,150.00 86.30,188.00 87.00,199.60 87.70,195.00 88.30,199.00 89.90,163.00 92.30,171.00 94.50,174.50 96.50,174.70 97.50,176.50 98.30,178.60 100.00,180.30 106.00,206.30 107.30,209.60 110.00,218.20 112.00,223.20 114.60,220.00 116.80,219.30 119.10,217.30 121.80,216.20 124.60,214.60 125.90,216.40 127.30,213.20 129.60,211.80 131.40,215.20 133.70,214.30 136.20,212.70 138.70,215.00 140.50,214.30 141.50,213.00 142.20,229.80 143.00,214.00 143.70,204.30 144.50,250.30 145.20,215.00 146.00,222.00 146.80,210.00 147.50,202.20 148.20,238.50 148.70,212.00 149.00,218.95 149.51,205.49 149.85,217.15 150.33,213.04 150.85,226.59 151.09,209.60 151.62,228.89 151.88,215.62 152.37,218.78 152.92,216.88 153.20,219.29 153.69,217.59 154.11,223.32 154.39,219.65 154.67,223.96 155.22,220.05 155.56,224.61 156.07,220.41 156.34,226.48 156.83,223.36 157.16,225.99 157.48,223.38 157.84,236.55 158.27,221.42 158.56,232.10 158.88,216.31 159.36,229.67 159.88,225.57 160.26,228.48 160.57,226.63 160.90,231.25 161.19,221.50 161.45,229.41 161.89,222.04 162.42,229.70 162.81,228.89 163.10,234.61 163.46,225.38 164.01,234.70 164.30,219.11 164.83,245.54 165.22,220.50 165.57,233.11 166.04,231.51 166.52,234.02 166.87,224.52 167.40,235.30 167.91,229.19 168.35,236.92 168.62,228.94 169.18,238.21 169.65,228.50 170.03,234.47 170.28,232.00 170.68,234.48 171.11,226.99 171.44,237.49 171.74,233.58 172.27,236.50 172.62,230.01 172.92,241.32 173.44,230.82 173.87,235.25 174.38,232.18 174.84,237.88 175.23,233.43 175.54,239.99 175.88,231.44 176.43,250.34 176.68,234.31 177.11,246.84 177.49,219.68 177.81,235.95 178.19,234.05 178.64,239.29 178.94,224.96 179.24,240.46 179.54,235.07 179.89,237.22 180.37,230.55 180.86,237.02 181.34,234.54 181.72,241.85 182.14,229.31 182.64,239.66 182.94,234.08 183.45,239.35 183.97,231.04 184.53,241.75 185.06,234.18 185.41,238.93 185.89,233.68 186.14,236.10 186.44,234.38 186.93,236.99 187.40,233.97 187.86,239.92 188.13,234.14 188.54,237.27 188.95,229.38 189.37,237.20 189.89,231.93 190.41,240.75 190.71,234.69 191.11,236.53 191.52,235.10 192.01,240.40 192.27,233.80 192.65,245.31 193.04,233.10 193.42,239.57 193.76,227.07 194.20,237.87 194.44,234.73 194.76,237.31 195.19,232.15 195.67,239.68 195.97,232.05 196.35,239.16 196.64,232.53 197.08,239.46 197.52,231.53 197.83,236.34 198.18,227.42 198.71,239.20 198.99,225.29 199.47,236.02 199.84,233.76 200.12,247.73 200.58,231.74 201.13,240.19 201.53,232.13 201.83,249.35 202.24,234.96 202.52,237.27 203.08,232.94 203.35,246.79 203.84,231.64 204.22,240.76 204.47,235.54 204.98,237.98 205.35,231.83 205.64,236.73 206.14,235.97 206.65,238.68 207.05,233.33 207.55,236.45 208.04,228.65 208.41,241.41 208.90,232.20 209.27,236.29 209.66,223.97 210.10,237.74 210.55,234.48 211.01,239.73 211.57,234.42 212.03,249.34 212.51,228.61 212.87,238.27 213.15,235.47 213.68,240.05 214.10,234.91 214.54,236.70 215.02,221.74 215.32,238.29 215.75,235.85 216.29,239.87 216.65,234.27 217.10,238.75 217.44,224.97 217.69,239.27 218.22,231.80 218.47,243.44 219.00,235.75 219.39,238.56 219.93,235.92 220.32,241.78 220.60,235.59 220.99,236.60 221.27,235.38 221.72,238.68 222.09,235.65 222.50,243.88 222.82,236.23 223.35,237.43 223.67,231.39 224.09,240.84 224.40,233.43 224.95,246.54 225.28,232.19 225.71,240.58 225.98,233.24 226.40,239.28 226.71,233.29 227.18,237.38 227.68,234.96 228.17,237.53 228.67,231.97 229.12,240.35 229.60,236.23 229.97,237.83 230.24,235.08 230.66,242.98 231.15,235.90 231.46,237.44 231.93,235.05 232.26,238.98 232.62,233.48 233.08,244.89 233.61,232.79 234.11,237.69 234.65,233.51 234.97,238.80 235.34,234.00 235.64,242.26 236.15,234.26 236.44,236.96 236.69,230.01 237.10,243.57 237.60,233.43 238.02,236.89 238.49,235.50 238.76,237.61 239.21,235.51 239.52,236.95 239.88,233.12 240.43,238.33 240.90,233.30 241.44,242.08 241.95,233.07 242.46,243.92 242.86,230.35 243.36,240.43 243.84,234.60 244.20,238.15 244.53,234.07 244.79,237.51 245.28,234.58 245.54,242.62 245.79,235.15 246.09,237.40 246.52,233.42 246.82,237.28 247.16,233.96 247.66,240.28 248.19,236.29 248.61,241.82 248.86,235.35 249.36,240.96 249.69,233.06 250.14,236.82 250.50,236.10 250.97,238.88 251.31,235.15 251.83,243.12 252.15,236.16 252.44,236.83 252.95,236.59 253.22,237.67 253.61,230.11 254.16,243.91 254.65,232.60 255.18,243.26 255.60,232.76 255.89,238.55 256.15,233.87 256.54,237.66 256.82,233.27 257.20,243.99 257.45,235.37 257.91,237.27 258.16,231.93 258.65,238.32 259.01,231.77 259.35,238.89 259.67,233.64 260.15,241.31 260.62,228.85 261.12,238.67 261.58,235.78 261.88,242.83 262.15,232.78 262.44,239.69 262.97,234.23 263.37,240.76 263.74,231.98 264.11,240.58 264.66,236.63 265.11,237.49 265.46,236.57 265.74,239.83 266.24,234.30 266.53,237.71 266.89,230.26 267.17,239.07 267.64,230.21 267.94,240.93 268.21,235.62 268.63,237.85 268.99,234.67 269.27,238.51 269.68,236.79 270.10,237.58 270.60,231.14 270.88,238.06 271.20,235.09 271.71,238.38 271.96,234.01 272.51,240.62 272.97,235.67 273.33,246.90 273.72,234.58 274.08,238.51 274.41,236.44 274.75,237.54 275.04,236.57 275.47,239.70 275.93,236.61 276.41,243.29 276.93,236.32 277.31,242.87 277.71,234.56 278.24,237.59 278.77,236.21 279.20,237.20 279.46,234.38 279.85,240.52 280.31,237.12 280.63,238.39 280.89,233.88 281.44,240.71 281.94,231.35 282.41,243.73 282.91,234.38 283.32,237.32 283.66,237.19 283.92,241.67 284.27,233.86 284.52,243.43 284.92,236.04 285.48,239.12 286.01,236.94 286.31,238.56 286.61,235.19 287.17,238.34 287.69,233.80 287.96,237.62 288.48,235.06 288.76,239.35 289.03,231.45 289.37,237.73 289.68,235.60 290.18,240.06 290.61,234.46 290.94,240.93 291.39,235.53 291.94,240.48 292.20,236.10 292.53,237.37 292.86,232.31 293.18,238.00 293.70,233.88 293.95,241.92 294.49,236.25 294.79,241.20 295.24,235.97 295.65,242.88 296.05,237.20 296.35,237.71 296.66,235.71 297.15,238.56 297.55,232.46 297.97,238.19 298.44,237.42 298.96,248.19 299.34,235.95 299.66,237.77 300.09,236.41 300.58,237.57 300.83,235.91 301.27,239.57 301.54,237.13 301.83,237.52 302.34,235.92 302.60,239.60 303.15,226.80 303.63,238.91 304.11,227.78 304.64,239.06 305.01,235.61 305.26,241.73 305.58,237.42 305.99,237.68 306.35,234.60 306.90,238.13 307.35,237.04 307.70,239.48 308.23,232.08 308.59,239.17 308.90,235.11 309.20,239.31 309.51,237.01 309.85,244.69 310.36,234.26 310.73,242.10 311.05,228.15 311.38,243.47 311.70,232.93 311.99,240.48 312.46,236.41 312.71,239.04 313.23,234.71 313.72,238.73 314.04,228.34 314.47,240.42 314.88,237.09 315.35,238.00 315.63,232.42 315.96,238.43 316.48,234.44 316.81,246.47 317.26,235.78 317.75,240.47 318.29,237.25 318.75,242.04 319.06,230.10 319.33,240.90 319.70,236.13 320.09,238.12 320.49,235.58 320.94,237.84 321.31,236.05 321.74,239.22 321.99,233.01 322.35,241.46 322.74,236.18 323.13,247.73 323.66,235.07 323.98,239.01 324.42,235.61 324.78,245.93 325.22,233.50 325.59,240.58 326.11,236.09 326.64,240.10 326.98,237.24 327.53,239.60 327.99,235.31 328.23,242.47 328.63,236.49 329.04,242.41 329.59,233.28 329.94,241.17 330.41,234.96 330.96,239.23 331.35,235.16 331.71,239.79 332.03,229.45 332.37,240.63 332.63,232.24 332.90,238.61 333.39,235.54 333.68,244.43 334.00,230.91 334.50,243.29 334.97,233.89 335.31,238.35 335.74,231.20 336.20,242.37 336.48,233.68 336.94,247.62 337.48,236.01 337.76,239.16 338.13,235.12 338.68,242.27 338.94,236.63 339.41,239.36 339.66,237.93 340.05,239.57 340.56,236.43 340.93,241.13 341.10,238.60 343.00,239.90 344.80,236.80 348.30,233.70 349.80,235.50 351.00,238.60 353.50,238.00 355.10,236.80" fill="none" stroke="#ff0000" stroke-width="2.0" stroke-linejoin="round" stroke-linecap="round" />
<polyline points="355.10,236.80 355.50,231.00 356.30,326.00 357.00,318.00 357.60,306.00 358.40,330.00 359.30,348.50 360.30,348.00 360.80,222.20 361.40,300.00 361.80,222.50 362.50,215.00 363.00,206.70 363.50,240.00 364.00,210.00 364.60,214.70 365.20,283.40 365.80,230.00 366.50,186.80 366.90,212.00 368.00,211.50 369.40,212.30 369.80,254.30 370.40,203.60 370.80,213.50 372.50,215.00 374.50,219.00 376.00,225.00 376.50,228.00 376.90,351.00 377.60,327.00 378.50,335.00 379.60,332.00 380.20,224.00 380.70,354.60 381.30,333.00 382.00,346.00 382.80,336.00 383.50,345.00 384.50,340.00 385.50,346.00 386.70,344.00 388.00,344.00 390.50,343.50 391.50,346.00 392.00,195.30 392.70,340.00 393.50,344.00 394.50,336.00 395.20,145.00 395.90,156.00 396.40,155.00 397.00,257.80 397.50,153.00 398.50,153.00 399.20,160.00 399.80,154.30 400.80,154.30 401.30,169.00 401.60,200.00 402.40,396.00 403.50,396.50 405.40,397.00" fill="none" stroke="#ff0000" stroke-width="1.9" stroke-linejoin="round" stroke-linecap="round" />
<rect x="128.9" y="65.05" width="159.75" height="93.05" fill="#fff" stroke="#000" stroke-width="1.6"/>
<line x1="132.5" y1="80.5" x2="153" y2="80.5" stroke="#1c63b6" stroke-width="2"/>
<text x="154.6" y="86.90" font-family="'Liberation Sans', sans-serif" font-size="18" textLength="129.0" lengthAdjust="spacingAndGlyphs" fill="#000">Tiger Lake 15W</text>
<line x1="132.5" y1="111.5" x2="153" y2="111.5" stroke="#78c316" stroke-width="2"/>
<text x="154.6" y="117.90" font-family="'Liberation Sans', sans-serif" font-size="18" textLength="116.4" lengthAdjust="spacingAndGlyphs" fill="#000">Ice Lake 15 W</text>
<line x1="132.5" y1="142.5" x2="153" y2="142.5" stroke="#ff0000" stroke-width="2"/>
<text x="154.6" y="148.90" font-family="'Liberation Sans', sans-serif" font-size="18" textLength="104.6" lengthAdjust="spacingAndGlyphs" fill="#000">Renoir 15 W</text>
</svg></body></html>
